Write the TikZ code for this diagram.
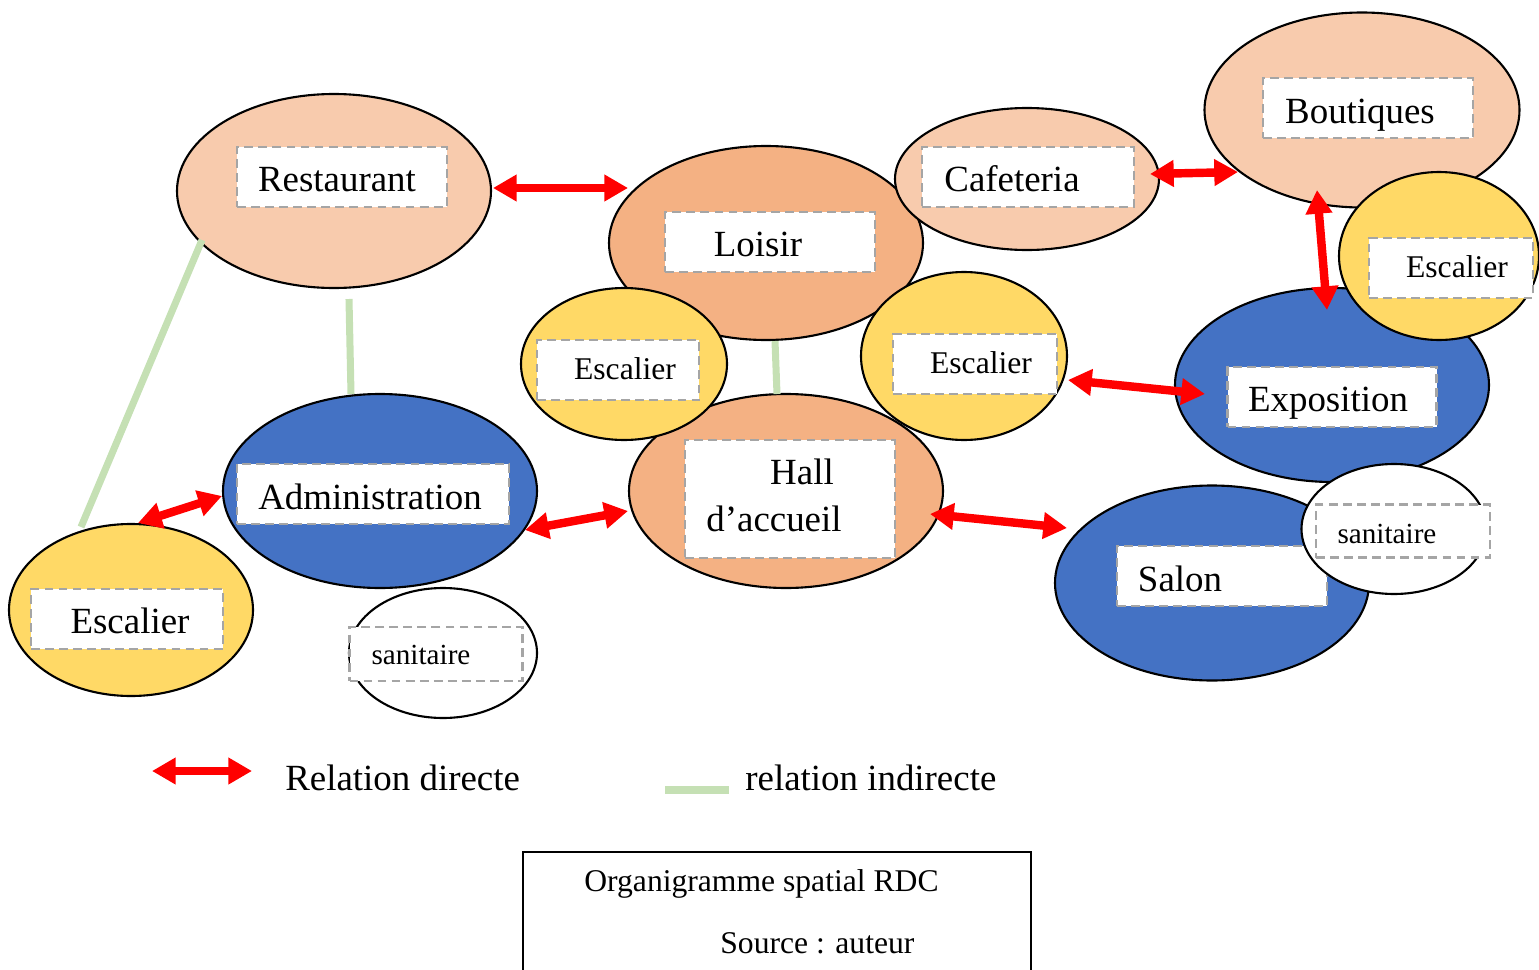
\documentclass[tikz,border=0pt]{standalone}
\usepackage{fontspec}
\setmainfont{Liberation Serif}
\usetikzlibrary{shapes.geometric,arrows.meta,calc}
\definecolor{peach}{HTML}{F8CBAD}
\definecolor{dpeach}{HTML}{F4B183}
\definecolor{stairy}{HTML}{FFD966}
\definecolor{roomblue}{HTML}{4472C4}
\definecolor{lgreen}{HTML}{C5E0B4}
\definecolor{lgray}{HTML}{A5A5A5}
\begin{document}
\begin{tikzpicture}[x=0.02cm,y=-0.02cm,
  ell/.style={ellipse,draw=black,line width=1.2pt,inner sep=0pt},
  esize/.style 2 args={minimum width=#1*0.02cm,minimum height=#2*0.02cm},
  lbox/.style={rectangle,draw=lgray,fill=white,line width=1.6pt,dash pattern=on 5pt off 3pt,inner sep=0pt},
  big/.style={font=\fontsize{21}{25}\selectfont,anchor=base,inner sep=0pt},
  mid/.style={font=\fontsize{18}{22}\selectfont,anchor=base,inner sep=0pt},
  small/.style={font=\fontsize{16.6}{20}\selectfont,anchor=base,inner sep=0pt},
  dar/.style={draw=red,line width=4.8pt,{Triangle[length=13.5pt,width=14.5pt]}-{Triangle[length=13.5pt,width=14.5pt]}},
  ind/.style={draw=lgreen,line width=4pt}]
\useasboundingbox (0,0) rectangle (1539,970);

% Restaurant
\node[ell,fill=peach,esize={314}{194}] (rest) at (334,191) {};
\node[lbox,esize={210}{60}] (restbox) at (342,177) {};
\node[big] (resttxt) at (337,191) {Restaurant};
% Loisir
\node[ell,fill=dpeach,esize={314}{194}] (lois) at (766,243) {};
\node[lbox,esize={210}{60}] (loisbox) at (770,242) {};
\node[big] (loistxt) at (758,256) {Loisir};
% Cafeteria
\node[ell,fill=peach,esize={264}{142}] (caf) at (1027,179) {};
\node[lbox,esize={212}{60}] (cafbox) at (1028,177) {};
\node[big] (caftxt) at (1012,191) {Cafeteria};
% Boutiques
\node[ell,fill=peach,esize={315}{195}] (bout) at (1362,110) {};
\node[lbox,esize={210}{60}] (boutbox) at (1368,108) {};
\node[big] (bouttxt) at (1360,123) {Boutiques};
% Exposition
\node[ell,fill=roomblue,esize={314}{194}] (expo) at (1332,385) {};
\node[lbox,esize={209}{60}] (expobox) at (1332,397) {};
\node[big] (expotxt) at (1328,411) {Exposition};
% Escalier top right
\node[ell,fill=stairy,esize={200}{168}] (esctr) at (1439,256) {};
\node[lbox,esize={164}{60}] (esctrbox) at (1451,268) {};
\node[mid] (esctrtxt) at (1457,277) {Escalier};
% Hall
\node[ell,fill=dpeach,esize={314}{194}] (hall) at (786,491) {};
\node[lbox,esize={210}{118}] (hallbox) at (790,499) {};
\node[big] (halltxt) at (802,484) {Hall};
\node[big] (halltxtb) at (774,531) {d’accueil};
% Escalier middle left
\node[ell,fill=stairy,esize={206}{152}] (escml) at (624,364) {};
\node[lbox,esize={162}{60}] (escmlbox) at (618,370) {};
\node[mid] (escmltxt) at (625,379) {Escalier};
% Escalier middle right
\node[ell,fill=stairy,esize={206}{168}] (escmr) at (964,356) {};
\node[lbox,esize={164}{60}] (escmrbox) at (975,364) {};
\node[mid] (escmrtxt) at (981,373) {Escalier};
% Administration
\node[ell,fill=roomblue,esize={314}{194}] (admin) at (380,491) {};
\node[lbox,esize={272}{60}] (adminbox) at (373,494) {};
\node[big] (admintxt) at (370,509) {Administration};
% Escalier bottom left
\node[ell,fill=stairy,esize={244}{172}] (escbl) at (131,610) {};
\node[lbox,esize={192}{60}] (escblbox) at (127,619) {};
\node[big] (escbltxt) at (130,633) {Escalier};
% sanitaire bottom
\node[ell,fill=white,esize={188}{130}] (san) at (443,653) {};
\node[lbox,esize={173}{54}] (sanbox) at (436,654) {};
\node[small] (santxt) at (421,664) {sanitaire};
% Salon
\node[ell,fill=roomblue,esize={314}{195}] (salon) at (1212,583) {};
\node[lbox,esize={210}{60}] (salonbox) at (1222,576) {};
\node[big] (salontxt) at (1180,591) {Salon};
% sanitaire right
\node[ell,fill=white,esize={185}{130}] (sanr) at (1394,529) {};
\node[lbox,esize={174}{53}] (sanrbox) at (1403,531) {};
\node[small] (sanrtxt) at (1387,543) {sanitaire};

% direct relations
\draw[dar] ($(rest.center)+(159,-3)$) -- ($(lois.center)+(-138,-55)$);
\draw[dar] ($(caf.center)+(123,-5)$) -- ($(bout.center)+(-124,62)$);
\draw[dar] ($(bout.center)+(-45,80)$) -- ($(expo.center)+(-5,-75)$);
\draw[dar] ($(escbl.center)+(7,-87)$) -- ($(admin.center)+(-158,5)$);
\draw[dar] ($(admin.center)+(145,39)$) -- ($(hall.center)+(-158,20)$);
\draw[dar] ($(hall.center)+(144,23)$) -- ($(salon.center)+(-145,-55)$);
\draw[dar] ($(escmr.center)+(104,24)$) -- ($(expo.center)+(-127,9)$);

% indirect relations
\draw[ind] ($(rest.center)+(-132,49)$) -- ($(escbl.center)+(-50,-83)$);
\draw[ind] ($(rest.center)+(15,108)$) -- ($(admin.center)+(-29,-97)$);
\draw[ind] ($(lois.center)+(9,98)$) -- ($(hall.center)+(-9,-97)$);

% legend
\coordinate (legA) at (152,771);
\coordinate (legB) at (252,771);
\draw[dar] (legA) -- (legB);
\node[big,anchor=base west] (legdir) at (285,790) {Relation directe};
\coordinate (legC) at (665,790);
\coordinate (legD) at (729,790);
\draw[ind,line width=4.5pt] (legC) -- (legD);
\node[big,anchor=base west] (legind) at (745,790) {relation indirecte};

% caption box
\draw[line width=1pt] (523,980) -- (523,852) -- (1031,852) -- (1031,980);
\node[mid,anchor=base west] (captitle) at (584,891) {Organigramme spatial RDC};
\node[mid,anchor=base west] (capsrc) at (720,953) {Source : auteur};
\end{tikzpicture}
\end{document}
